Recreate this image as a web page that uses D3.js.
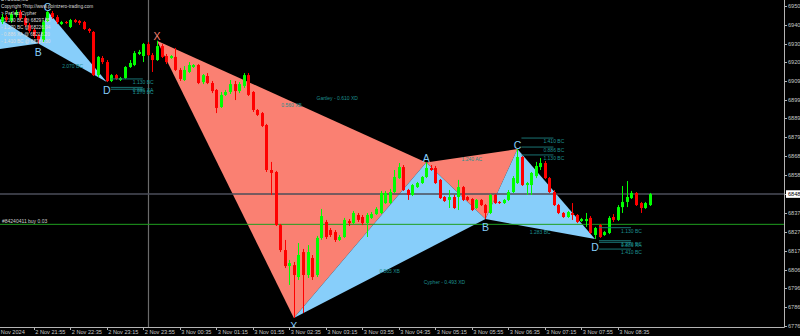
<!DOCTYPE html>
<html>
<head>
<meta charset="utf-8">
<script src="https://d3js.org/d3.v7.min.js"></script>
<style>
    body { margin: 0; background: #000; }
    svg { display: block; }
    text { font-family: 'Liberation Sans', Arial, sans-serif; }
</style>
</head>
<body>
<svg id="drawing_region"></svg>
<script>
// BTCUSD M5, one bar per 5 minutes from 2 Nov 21:20 to 3 Nov 09:10
const opens = [
    69418,69445,69424,69456,69473,69440,69402,69375,69342,69320,
    69424,69467,69445,69407,69418,69391,69429,69424,69418,69380,
    69364,69129,69222,69200,69097,69129,69102,69113,69173,69184,
    69244,69233,69298,69238,69211,69287,69233,69222,69228,69157,
    69102,69146,69173,69184,69091,69124,69086,69048,68955,69021,
    69037,69080,69042,69070,69129,69037,68939,68922,68857,68612,
    68601,68312,68176,68089,68094,68029,68165,68040,68133,68040,
    68242,68329,68285,68274,68231,68247,68334,68323,68367,68356,
    68323,68351,68372,68378,68432,68432,68492,68568,68628,68503,
    68476,68519,68541,68574,68623,68623,68558,68465,68449,68465,
    68465,68519,68465,68454,68405,68449,68421,68378,68476,68438,
    68432,68449,68492,68541,68683,68530,68530,68579,68628,68650,
    68568,68492,68421,68378,68356,68378,68367,68334,68334,68351,
    68258,68312,68258,68269,68356,68340,68410,68438,68459,68487,
    68432,68405,68421];
const highs = [
    69462,69456,69473,69484,69484,69451,69413,69385,69353,69429,
    69478,69478,69456,69424,69424,69435,69435,69429,69424,69385,
    69369,69233,69233,69211,69135,69135,69119,69178,69211,69260,
    69266,69304,69309,69249,69316,69298,69244,69238,69277,69168,
    69178,69200,69189,69189,69135,69140,69097,69053,69037,69048,
    69102,69097,69091,69140,69140,69042,68944,68928,68863,68656,
    68607,68318,68231,68122,68111,68214,68182,68203,68149,68253,
    68400,68340,68296,68285,68258,68351,68345,68389,68378,68367,
    68378,68383,68410,68498,68498,68509,68612,68650,68639,68509,
    68536,68547,68579,68653,68639,68634,68563,68470,68503,68476,
    68558,68525,68470,68459,68454,68454,68427,68481,68481,68443,
    68454,68503,68579,68726,68688,68547,68601,68656,68677,68661,
    68574,68503,68427,68383,68389,68432,68372,68351,68378,68361,
    68302,68318,68280,68361,68372,68421,68525,68552,68498,68492,
    68438,68438,68487];
const lows = [
    69407,69418,69413,69445,69429,69391,69358,69331,69301,69309,
    69418,69435,69407,69402,69407,69385,69413,69402,69375,69358,
    69124,69119,69189,69091,69091,69102,69097,69108,69168,69178,
    69238,69200,69233,69146,69206,69222,69189,69217,69151,69097,
    69097,69140,69168,69080,69080,69080,69031,68922,68950,69015,
    69026,68993,69031,69059,69015,68928,68906,68846,68601,68476,
    68307,68165,68078,67986,67806,68013,67833,68024,68013,68029,
    68231,68236,68247,68220,68225,68242,68307,68318,68329,68312,
    68247,68345,68367,68372,68427,68427,68487,68563,68498,68449,
    68470,68514,68536,68568,68607,68536,68454,68438,68405,68400,
    68394,68443,68443,68389,68400,68416,68345,68372,68427,68427,
    68427,68443,68487,68536,68525,68476,68476,68568,68612,68563,
    68487,68416,68372,68351,68351,68340,68323,68329,68302,68263,
    68236,68242,68253,68263,68329,68334,68378,68410,68454,68416,
    68378,68400,68416];
const closes = [
    69445,69429,69462,69473,69440,69402,69369,69342,69320,69418,
    69473,69445,69418,69418,69413,69429,69418,69413,69380,69369,
    69129,69228,69200,69097,69129,69108,69113,69173,69195,69249,
    69255,69298,69238,69211,69287,69228,69200,69233,69157,69108,
    69157,69184,69184,69086,69129,69086,69042,68950,69021,69037,
    69080,69042,69080,69129,69021,68939,68912,68852,68612,68596,
    68312,68176,68089,68105,68040,68149,68040,68165,68029,68242,
    68361,68247,68258,68231,68247,68340,68323,68378,68340,68323,
    68367,68372,68400,68487,68487,68492,68574,68628,68503,68476,
    68530,68541,68574,68623,68612,68541,68459,68443,68465,68405,
    68519,68449,68449,68394,68449,68421,68378,68476,68432,68432,
    68449,68492,68568,68683,68530,68541,68596,68634,68650,68568,
    68492,68421,68378,68356,68383,68367,68329,68345,68345,68269,
    68296,68247,68274,68351,68340,68410,68438,68465,68487,68421,
    68405,68432,68481];

const x_tick_index = [7, 15, 23, 31, 39, 47, 55, 63, 71, 79, 87, 95, 103, 111, 119, 127, 135];
const x_tick_labels = ['2 Nov 21:55', '2 Nov 22:35', '2 Nov 23:15', '2 Nov 23:55', '3 Nov 00:35',
    '3 Nov 01:15', '3 Nov 01:55', '3 Nov 02:35', '3 Nov 03:15', '3 Nov 03:55', '3 Nov 04:35',
    '3 Nov 05:15', '3 Nov 05:55', '3 Nov 06:35', '3 Nov 07:15', '3 Nov 07:55', '3 Nov 08:35'];
const first_date_label = '2 Nov 2024';

const y_tick_values = [69505, 69402, 69301, 69200, 69097, 68993, 68895, 68792, 68688,
    68585, 68481, 68378, 68274, 68171, 68068, 67969, 67866, 67762];

const bid_price = 68481;
const order_price = 68316;
const order_label = '#84240411 buy 0.03';
const separator_index = 32;   // 3 Nov 00:00

const comment_lines = [
    'BTCUSD,M5',
    'Copyright ?http://www.pointzero-trading.com',
    '> Perfect Cypher',
    '- 1.130 BC @ 68297.85',
    '- 1.270 BC @ 68226.94',
    '- 0.886 XA @ 68218.20',
    '- 1.410 BC @ 68181.30'
];

// pattern points: [bar index, price]
const left_cypher = { X: [-7, 69248], A: [-3, 69475], B: [8, 69301], C: [10, 69478], D: [23, 69091] };
const gartley = { X: [34, 69316], A: [64, 67806], B: [93, 68653], C: [106, 68345], D: [113, 68726] };
const cypher = { X: [64, 67806], A: [93, 68653], B: [106, 68345], C: [113, 68726], D: [130, 68236] };

const left_ratios = [ { from: 'B', to: 'D', text: '2.070 BC' } ];
const gartley_ratios = [
    { from: 'X', to: 'B', text: '0.560 XB' },
    { from: 'X', to: 'D', text: 'Gartley - 0.610 XD' } ];
const cypher_ratios = [
    { from: 'X', to: 'B', text: '0.565 XB' },
    { from: 'X', to: 'D', text: 'Cypher - 0.493 XD' },
    { from: 'A', to: 'C', text: '1.240 AC' },
    { from: 'B', to: 'D', text: '1.283 BC' } ];

// projection levels drawn next to a bar
const left_levels = { at: 23, levels: [
    { price: 69108, text: '1.130 BC' }, { price: 69062, text: '0.886 XA' }, { price: 69052, text: '1.270 BC' } ] };
const c_levels = { at: 113, levels: [
    { price: 68786, text: '1.410 BC' }, { price: 68737, text: '0.886 BC' }, { price: 68694, text: '1.130 BC' } ] };
const d_levels = { at: 130, levels: [
    { price: 68297.85, text: '1.130 BC' }, { price: 68226.94, text: '1.270 BC' },
    { price: 68218.20, text: '0.886 XA' }, { price: 68181.30, text: '1.410 BC' } ] };


const data = opens.map( (o, i) => ({ i: i, open: o, high: highs[i], low: lows[i], close: closes[i] }) );

var config = {
    parent: '#drawing_region',
    width: 800,
    height: 336,
    plot_width: 784,
    plot_height: 327
};

class CandleChart {

    constructor( config, data ) {
        this.config = {
            parent: config.parent,
            width: config.width || 800,
            height: config.height || 336,
            plot_width: config.plot_width || 784,
            plot_height: config.plot_height || 327
        }
        this.data = data;
        this.init();
    }

    init() {
        let self = this;

        self.svg = d3.select( self.config.parent )
            .attr('width', self.config.width)
            .attr('height', self.config.height)
            .style('background', '#000');

        self.svg.append('defs').append('clipPath')
            .attr('id', 'plot_clip')
          .append('rect')
            .attr('width', self.config.plot_width)
            .attr('height', self.config.plot_height);

        self.chart = self.svg.append('g')
            .attr('clip-path', 'url(#plot_clip)');

        self.axis = self.svg.append('g');

        // 4.5625 px per bar
        self.xscale = d3.scaleLinear()
            .range( [1.86, 1.86 + 142 * 4.5625] );

        self.yscale = d3.scaleLinear()
            .range( [0, self.config.height] );
    }

    update() {
        let self = this;

        self.xscale.domain( [0, self.data.length - 1] );
        self.yscale.domain( [69538, 69538 - 5.447 * self.config.height] );

        self.render();
    }

    render() {
        let self = this;
        const xs = self.xscale, ys = self.yscale;
        const pt = p => [xs(p[0]), ys(p[1])];
        const W = self.config.plot_width, H = self.config.plot_height;

        const patterns = [
            { pts: left_cypher, fill: '#87cefa', labels: ['B', 'C', 'D'], ratios: left_ratios },
            { pts: gartley, fill: '#fa8072', labels: ['X'], ratios: gartley_ratios },
            { pts: cypher, fill: '#87cefa', labels: ['X', 'A', 'B', 'C', 'D'], ratios: cypher_ratios }
        ];

        patterns.forEach( pat => {
            self.chart.append('g').selectAll('path')
                .data( [['X', 'A', 'B'], ['B', 'C', 'D']] )
                .join('path')
                .attr('d', tri => d3.line()( tri.map(k => pt(pat.pts[k])) ) + 'Z')
                .attr('fill', pat.fill);
        });

        // period separator, bid and order lines
        self.chart.append('line')
            .attr('x1', Math.round(xs(separator_index)) + 0.5)
            .attr('x2', Math.round(xs(separator_index)) + 0.5)
            .attr('y1', 0).attr('y2', H)
            .attr('stroke', '#6b6b6b').attr('stroke-width', 1.2);

        self.chart.append('line')
            .attr('x1', 0).attr('x2', W)
            .attr('y1', ys(bid_price)).attr('y2', ys(bid_price))
            .attr('stroke', '#4b4e5a').attr('stroke-width', 1.5);

        self.chart.append('line')
            .attr('x1', 0).attr('x2', W)
            .attr('y1', ys(order_price)).attr('y2', ys(order_price))
            .attr('stroke', '#1f9e1f').attr('stroke-width', 1);

        // candles
        const col = d => d.close >= d.open ? '#00ff00' : '#ff0000';
        const bars = self.chart.append('g').selectAll('g')
            .data(self.data)
            .join('g');

        bars.append('line')
            .attr('x1', d => Math.round(xs(d.i)) + 0.5)
            .attr('x2', d => Math.round(xs(d.i)) + 0.5)
            .attr('y1', d => ys(d.high))
            .attr('y2', d => ys(d.low))
            .attr('stroke', col);

        bars.append('rect')
            .attr('x', d => Math.round(xs(d.i)) - 1)
            .attr('y', d => ys(Math.max(d.open, d.close)))
            .attr('width', 3)
            .attr('height', d => Math.max(1, Math.abs(ys(d.open) - ys(d.close))))
            .attr('fill', col);

        // projection levels
        [left_levels, c_levels, d_levels].forEach( grp => {
            const x0 = xs(grp.at);
            const g = self.chart.append('g');
            g.selectAll('line')
                .data(grp.levels)
                .join('line')
                .attr('x1', x0 + 4).attr('x2', x0 + 36)
                .attr('y1', d => ys(d.price)).attr('y2', d => ys(d.price))
                .attr('stroke', '#1a7373').attr('stroke-width', 1);
            g.selectAll('text')
                .data(grp.levels)
                .join('text')
                .attr('x', x0 + 26)
                .attr('y', d => ys(d.price) + 5)
                .attr('font-size', '5px')
                .attr('fill', '#1d8f8f')
                .text(d => d.text);
        });

        // ratio labels at leg midpoints
        patterns.forEach( pat => {
            self.chart.append('g').selectAll('text')
                .data(pat.ratios)
                .join('text')
                .attr('x', d => (xs(pat.pts[d.from][0]) + xs(pat.pts[d.to][0])) / 2)
                .attr('y', d => (ys(pat.pts[d.from][1]) + ys(pat.pts[d.to][1])) / 2 + 5)
                .attr('text-anchor', 'middle')
                .attr('font-size', '5px')
                .attr('fill', '#1d8f8f')
                .text(d => d.text);
        });

        // point letters
        const order = ['X', 'A', 'B', 'C', 'D'];
        const is_high = (pts, k) => {
            const j = order.indexOf(k);
            return pts[k][1] > pts[order[j === 0 ? 1 : j - 1]][1];
        };
        patterns.forEach( pat => {
            self.chart.append('g').selectAll('text')
                .data(pat.labels)
                .join('text')
                .attr('x', k => xs(pat.pts[k][0]))
                .attr('y', k => ys(pat.pts[k][1]) + (is_high(pat.pts, k) ? -0.5 : 12))
                .attr('text-anchor', 'middle')
                .attr('font-size', '10.5px')
                .attr('fill', pat.fill)
                .text(k => k);
        });

        self.chart.append('text')
            .attr('x', 2)
            .attr('y', ys(order_price) - 1.5)
            .attr('font-size', '5px')
            .attr('fill', '#d0d0d0')
            .text(order_label);

        self.chart.append('g').selectAll('text')
            .data(comment_lines)
            .join('text')
            .attr('x', 1)
            .attr('y', (d, i) => 0.7 + i * 7)
            .attr('font-size', '4.7px')
            .attr('fill', '#dcdcdc')
            .text(d => d);

        // axes
        self.axis.append('line')
            .attr('x1', W + 0.5).attr('x2', W + 0.5)
            .attr('y1', 0).attr('y2', H + 0.5)
            .attr('stroke', '#b4b4b4');
        self.axis.append('line')
            .attr('x1', 0).attr('x2', W + 0.5)
            .attr('y1', H + 0.5).attr('y2', H + 0.5)
            .attr('stroke', '#b4b4b4');

        self.axis.append('g').selectAll('line')
            .data(y_tick_values)
            .join('line')
            .attr('x1', W).attr('x2', W + 3)
            .attr('y1', d => Math.round(ys(d)) + 0.5)
            .attr('y2', d => Math.round(ys(d)) + 0.5)
            .attr('stroke', '#b4b4b4');
        self.axis.append('g').selectAll('text')
            .data(y_tick_values)
            .join('text')
            .attr('x', W + 4)
            .attr('y', d => ys(d) + 2)
            .attr('font-size', '5.6px')
            .attr('fill', '#c8c8c8')
            .text(d => d.toFixed(2));

        self.axis.append('rect')
            .attr('x', W + 2).attr('y', ys(bid_price) - 3.8)
            .attr('width', 16).attr('height', 7.6)
            .attr('fill', '#ffffff');
        self.axis.append('text')
            .attr('x', W + 4)
            .attr('y', ys(bid_price) + 2)
            .attr('font-size', '5.6px')
            .attr('fill', '#000')
            .text(bid_price.toFixed(2));

        self.axis.append('g').selectAll('line')
            .data(x_tick_index)
            .join('line')
            .attr('x1', d => Math.round(xs(d)) + 0.5)
            .attr('x2', d => Math.round(xs(d)) + 0.5)
            .attr('y1', H).attr('y2', H + 3)
            .attr('stroke', '#b4b4b4');
        self.axis.append('g').selectAll('text')
            .data(x_tick_index)
            .join('text')
            .attr('x', d => xs(d) + 1.5)
            .attr('y', 334)
            .attr('font-size', '5.6px')
            .attr('fill', '#c8c8c8')
            .text((d, i) => x_tick_labels[i]);
        self.axis.append('text')
            .attr('x', xs(x_tick_index[0]) - 9)
            .attr('y', 334)
            .attr('text-anchor', 'end')
            .attr('font-size', '5.6px')
            .attr('fill', '#c8c8c8')
            .text(first_date_label);
    }
}

const candle_chart = new CandleChart( config, data );
candle_chart.update();
</script>
</body>
</html>
